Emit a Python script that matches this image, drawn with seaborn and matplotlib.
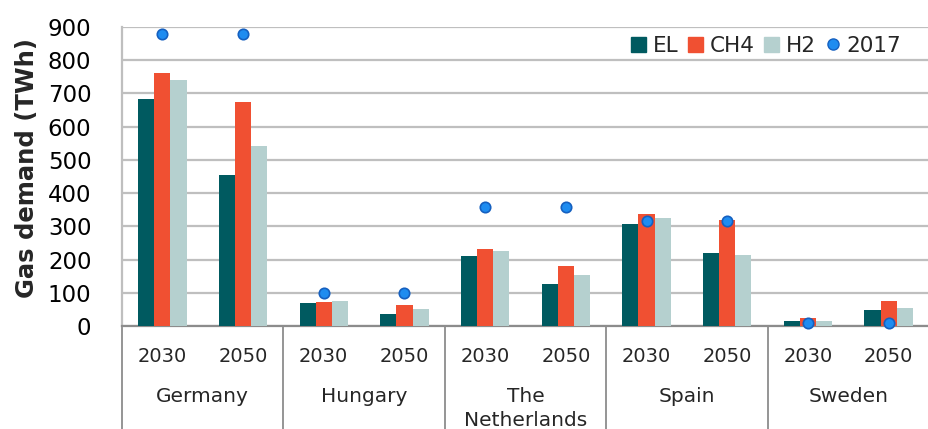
import pandas as pd
import numpy as np
import matplotlib
matplotlib.use("Agg")
import matplotlib.pyplot as plt
import seaborn as sns
from matplotlib.patches import Patch
from matplotlib.lines import Line2D

# values (TWh)
countries = ["Germany", "Hungary", "The\nNetherlands", "Spain", "Sweden"]
years = ["2030", "2050"]
series = ["EL", "CH4", "H2"]
el = [682, 455, 69, 37, 211, 126, 307, 220, 14, 48]
ch4 = [762, 674, 72, 64, 232, 180, 338, 319, 25, 75]
h2 = [740, 542, 75, 52, 226, 153, 326, 214, 14, 53]
ref2017 = [880, 880, 100, 100, 358, 358, 315, 315, 10, 10]

colors = {"EL": "#005A60", "CH4": "#F05032", "H2": "#B5D0CF"}
dot_color = "#1E8CF0"

slots = [c + "|" + y for c in countries for y in years]
df = pd.DataFrame({
    "slot": slots * 3,
    "series": np.repeat(series, len(slots)),
    "value": el + ch4 + h2,
})
df17 = pd.DataFrame({"slot": slots, "value": ref2017})

sns.set_style("white")
plt.rcParams["font.family"] = ["DejaVu Sans"]

fig = plt.figure(figsize=(9.29, 4.29), dpi=100)
ax = fig.add_axes([0.1313, 0.24, 0.8687, 0.697])

sns.barplot(data=df, x="slot", y="value", hue="series", order=slots,
            hue_order=series, palette=colors, saturation=1, width=0.6,
            linewidth=0, ax=ax, legend=False, zorder=3)
sns.pointplot(data=df17, x="slot", y="value", order=slots, linestyle="none",
              marker="o", color=dot_color, markersize=7.5,
              markeredgecolor="#1560C0", markeredgewidth=1.2, ax=ax)
for c in ax.collections + ax.lines:
    c.set_zorder(5)
    c.set_clip_on(False)

ax.set_xlim(-0.5, len(slots) - 0.5)
ax.set_ylim(0, 900)
ax.set_yticks(range(0, 901, 100))
ax.yaxis.grid(True, color="#BFBFBF", linewidth=1.6, zorder=0)
ax.set_axisbelow(True)
ax.tick_params(axis="y", length=0, pad=22, labelsize=16.5, colors="#000000")
ax.set_ylabel("Gas demand (TWh)", fontsize=17.5, fontweight="bold")
ax.yaxis.set_label_coords(-0.103, 0.53)
ax.set_xlabel("")

# category axis: years then countries
ax.set_xticks(range(len(slots)))
ax.set_xticklabels(years * len(countries), fontsize=14)
ax.tick_params(axis="x", length=0, pad=15)
tr = ax.get_xaxis_transform()
for i, c in enumerate(countries):
    ax.text(2 * i + 0.5, -0.205, c, transform=tr, ha="center", va="top",
            fontsize=14.5, linespacing=1.3)
for k in range(len(countries) + 1):
    ax.plot([2 * k - 0.5] * 2, [0, -0.36], transform=tr, color="#8C8C8C",
            linewidth=1.3, clip_on=False, zorder=2)

for s in ["top", "right"]:
    ax.spines[s].set_visible(False)
ax.spines["left"].set_color("#BFBFBF")
ax.spines["left"].set_linewidth(1.6)
ax.spines["bottom"].set_color("#8C8C8C")
ax.spines["bottom"].set_linewidth(1.6)

handles = [Patch(color=colors[s], label=s) for s in series]
handles.append(Line2D([], [], linestyle="none", marker="o", color=dot_color,
                      markeredgecolor="#1560C0", markersize=8, label="2017"))
ax.legend(handles=handles, loc="upper right", bbox_to_anchor=(0.99, 1.035),
          ncol=4, frameon=False, fontsize=15.5, handlelength=0.7,
          handleheight=0.7, handletextpad=0.3, columnspacing=0.45)

fig.savefig("out.png", dpi=100)
